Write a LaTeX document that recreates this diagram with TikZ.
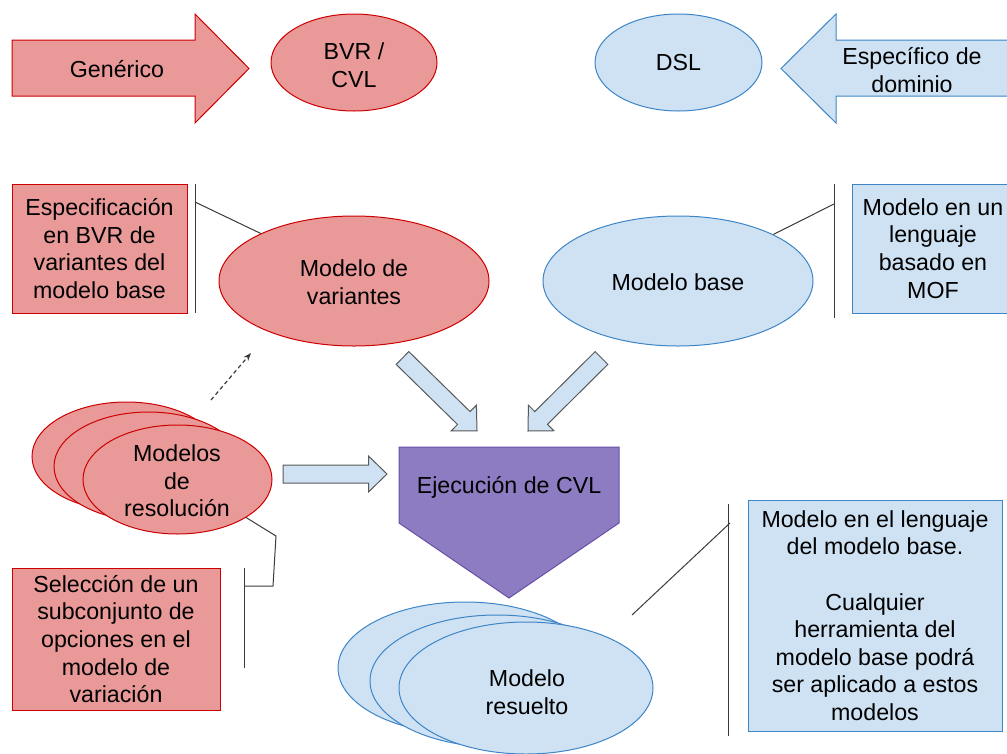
\documentclass[tikz,border=0pt]{standalone}
\usepackage{fontspec}
\setmainfont{Liberation Sans}
\usetikzlibrary{shapes.geometric,arrows.meta}
\definecolor{redfill}{HTML}{EA9999}
\definecolor{redline}{HTML}{CC0000}
\definecolor{bluefill}{HTML}{CFE2F3}
\definecolor{blueline}{HTML}{3D85C6}
\definecolor{purplefill}{HTML}{8E7CC3}
\definecolor{purpleline}{HTML}{674EA7}
\definecolor{arrowline}{HTML}{595959}
\definecolor{calloutline}{HTML}{3A3A3A}
\begin{document}
\begin{tikzpicture}[x=1pt,y=-1pt,
  every node/.style={font=\fontsize{23.2pt}{27.6pt}\selectfont, align=center, inner sep=0pt},
  redshape/.style={fill=redfill, draw=redline, line width=1pt},
  blueshape/.style={fill=bluefill, draw=blueline, line width=1pt},
  oval/.style={ellipse, inner sep=0pt},
  box/.style={rectangle, inner sep=0pt},
  callout/.style={draw=calloutline, line width=1pt},
  pics/blockarrow/.style={code={
    \draw[fill=bluefill, draw=arrowline, line width=1pt]
      (0,-9) -- (#1-18.5,-9) -- (#1-18.5,-18) -- (#1,0) -- (#1-18.5,18)
      -- (#1-18.5,9) -- (0,9) -- cycle;}}
]
\useasboundingbox (0,0) rectangle (1007,753);

% --- top row: generic vs. domain specific ---
\draw[redshape] (12,40) -- (195,40) -- (195,14) -- (249,68.5) -- (195,123)
  -- (195,96) -- (12,96) -- cycle;
\node (gen) at (117,69) {Genérico};
\node[oval, redshape, minimum width=166, minimum height=97] (bvr) at (354,62.5) {};
\node (bvrtext) at (354,65) {BVR /\\CVL};

\node[oval, blueshape, minimum width=167, minimum height=97] (dsl) at (678.5,62.5) {};
\node (dsltext) at (678.5,63) {DSL};
\draw[blueshape] (1015,40) -- (836,40) -- (836,14) -- (781,68.5) -- (836,123)
  -- (836,96) -- (1015,96) -- cycle;
\node (spec) at (912,70) {Específico de\\dominio};

% --- variant model and base model ---
\node[box, redshape, minimum width=175, minimum height=129] (specbox) at (99.5,248.5)
  {Especificación\\en BVR de\\variantes del\\modelo base};
\node[oval, redshape, minimum width=270, minimum height=130] (var) at (354,281) {};
\node (vartext) at (354,282) {Modelo de\\variantes};

\node[oval, blueshape, minimum width=270, minimum height=130] (base) at (678,281) {};
\node (basetext) at (678,282) {Modelo base};
\node[box, blueshape, minimum width=162, minimum height=129] (mofbox) at (933,248.5)
  {Modelo en un\\lenguaje\\basado en\\MOF};

% callout brackets of the upper row
\coordinate (spTop) at (195,184);
\coordinate (spBot) at (195,313);
\coordinate (spJoin) at (195,202);
\draw[callout] (spTop) -- (spBot);
\draw[callout] (spJoin) -- (var.153.7);

\coordinate (mfTop) at (834,184);
\coordinate (mfBot) at (834,318);
\coordinate (mfJoin) at (834,204);
\draw[callout] (mfTop) -- (mfBot);
\draw[callout] (mfJoin) -- (base.26.1);

% --- resolution models (stack) ---
\node[oval, redshape, minimum width=189, minimum height=109] (res3) at (126.5,456.5) {};
\node[oval, redshape, minimum width=189, minimum height=109] (res2) at (148.5,466.5) {};
\node[oval, redshape, minimum width=189, minimum height=109] (res) at (177.5,479.5) {};
\node (restext) at (177,481) {Modelos\\de\\resolución};

% dashed hint towards the variant model
\coordinate (dashS) at (211,400);
\coordinate (dashE) at (251,353);
\draw[draw=calloutline, line width=1.2pt, dash pattern=on 4pt off 3pt,
  -{Stealth[length=8pt,width=6pt]}] (dashS) -- (dashE);

% --- execution ---
\coordinate (pA) at (399,447);
\coordinate (pB) at (619,447);
\coordinate (pC) at (619,523);
\coordinate (pD) at (509,598);
\coordinate (pE) at (399,523);
\draw[fill=purplefill, draw=purpleline, line width=1pt] (pA) -- (pB) -- (pC) -- (pD) -- (pE) -- cycle;
\node (exec) at (509,487) {Ejecución de CVL};

% block arrows feeding the execution
\pic[rotate=-44.4] at (402.5,358) {blockarrow=104.3};
\pic[rotate=-135.2] at (601.5,358) {blockarrow=103.6};
\pic at (283,474) {blockarrow=104};

% callout of the resolution models
\coordinate (rsK1) at (276,536);
\coordinate (rsK2) at (273,586);
\coordinate (rsK3) at (244,586);
\coordinate (rsTop) at (244,568);
\coordinate (rsBot) at (244,668);
\draw[callout] (res.-29.7) -- (rsK1) -- (rsK2) -- (rsK3);
\draw[callout] (rsTop) -- (rsBot);
\node[box, redshape, minimum width=208, minimum height=142] (selbox) at (116,639)
  {Selección de un\\subconjunto de\\opciones en el\\modelo de\\variación};

% --- resolved model (stack) ---
\node[oval, blueshape, minimum width=254, minimum height=132] (out3) at (465,668) {};
\node[oval, blueshape, minimum width=254, minimum height=132] (out2) at (497,681) {};
\node[oval, blueshape, minimum width=254, minimum height=132] (out) at (526,688) {};
\node (outtext) at (527,692) {Modelo\\resuelto};

% callout of the resolved model
\coordinate (roTop) at (728,504);
\coordinate (roBot) at (728,736);
\coordinate (roJoin) at (730,523);
\coordinate (roFree) at (632,615);
\draw[callout] (roTop) -- (roBot);
\draw[callout] (roJoin) -- (roFree);
\node[box, blueshape, minimum width=254, minimum height=231] (outbox) at (875,615.5)
  {Modelo en el lenguaje\\del modelo base.\\[27.6pt]Cualquier\\herramienta del\\modelo base podrá\\ser aplicado a estos\\modelos};
\end{tikzpicture}
\end{document}
